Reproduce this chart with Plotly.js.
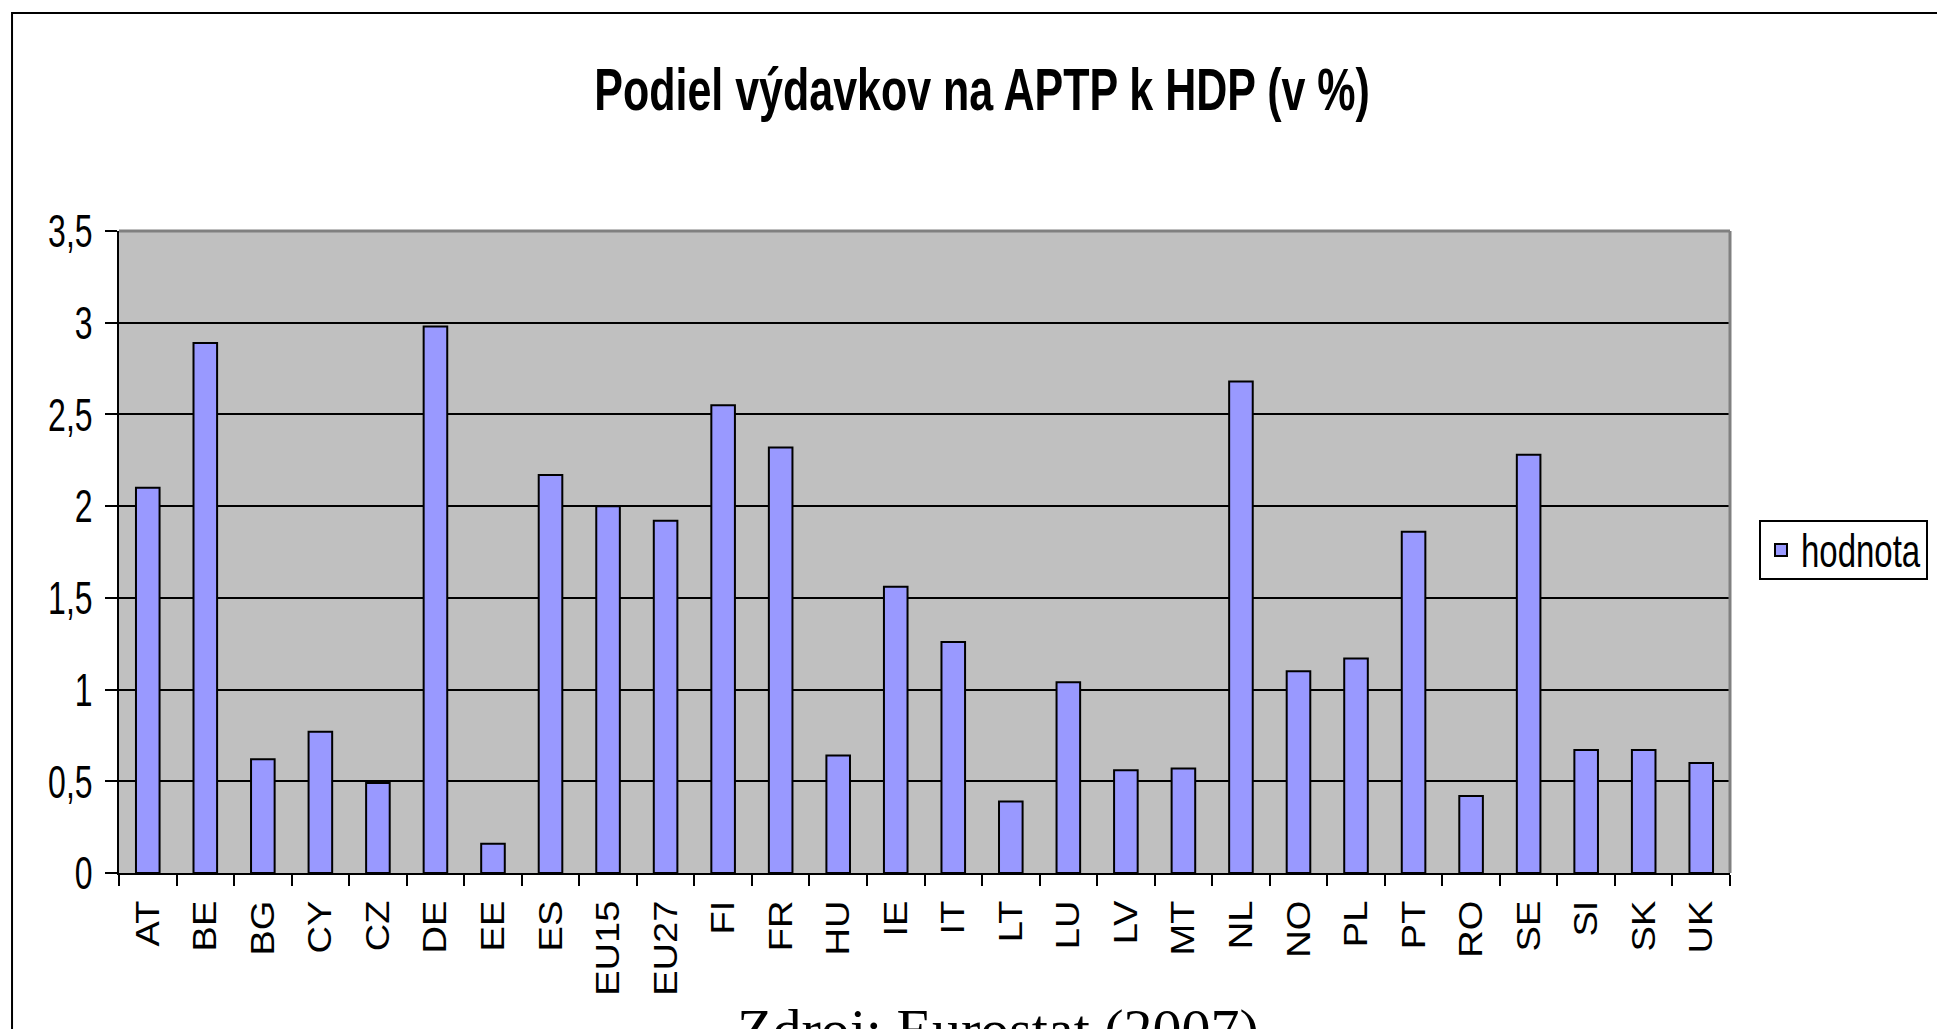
<!DOCTYPE html>
<html>
<head>
<meta charset="utf-8">
<script src="https://cdn.plot.ly/plotly-3.0.1.min.js"></script>
<style>
html,body{margin:0;padding:0;background:#fff;}
#chart{width:1937px;height:1029px;}
#chart .main-svg text.gtitle { transform-box: fill-box; transform-origin: center; transform: scaleY(1.38); }
#chart .main-svg g.ytick { transform-box: fill-box; transform-origin: center; transform: scaleY(1.45); }
#chart .main-svg g.xtick { transform-box: fill-box; transform-origin: center top; transform: scaleY(1.12); }
#chart .main-svg text.legendtext { transform-box: fill-box; transform-origin: center; transform: scaleY(1.4); }
</style>
</head>
<body>
<div id="chart"></div>
<script>
const countries = ["AT","BE","BG","CY","CZ","DE","EE","ES","EU15","EU27","FI","FR","HU","IE","IT","LT","LU","LV","MT","NL","NO","PL","PT","RO","SE","SI","SK","UK"];
const values = [2.10,2.89,0.62,0.77,0.49,2.98,0.16,2.17,2.00,1.92,2.55,2.32,0.64,1.56,1.26,0.39,1.04,0.56,0.57,2.68,1.10,1.17,1.86,0.42,2.28,0.67,0.67,0.60];
const yTickVals = [0,0.5,1,1.5,2,2.5,3,3.5];
const yTickText = ["0","0,5","1","1,5","2","2,5","3","3,5"];
const seriesName = "hodnota";
const chartTitle = "Podiel výdavkov na APTP k HDP (v %)";
const sourceNote = "Zdroj: Eurostat (2007)";

const sans = "Liberation Sans, Arial, sans-serif";

const trace = {
  type: "bar",
  x: countries,
  y: values,
  name: seriesName,
  showlegend: true,
  marker: {color: "#9999FF", line: {color: "#000000", width: 2}},
  hoverinfo: "x+y"
};

const layout = {
  width: 1937,
  height: 1029,
  margin: {l: 119, r: 207, t: 231, b: 156, pad: 0, autoexpand: false},
  paper_bgcolor: "#FFFFFF",
  plot_bgcolor: "#C0C0C0",
  bargap: 0.59,
  title: {
    text: "<b>" + chartTitle + "</b>",
    font: {family: sans, size: 43, color: "#000000"},
    x: 0.507, xanchor: "center",
    y: 0.913, yanchor: "middle"
  },
  xaxis: {
    type: "category",
    range: [-0.5, countries.length - 0.5],
    showline: true, linecolor: "#000000", linewidth: 2,
    ticks: "outside", tickson: "boundaries", ticklen: 11, tickwidth: 2, tickcolor: "#000000",
    tickangle: -90, ticklabelstandoff: 12,
    tickfont: {family: sans, size: 34, color: "#000000"},
    showgrid: false, zeroline: false
  },
  yaxis: {
    range: [0, 3.5],
    tickvals: yTickVals, ticktext: yTickText,
    showline: true, linecolor: "#000000", linewidth: 2,
    ticks: "outside", ticklen: 12, tickwidth: 2, tickcolor: "#000000",
    ticklabelstandoff: 6,
    tickfont: {family: sans, size: 32, color: "#000000"},
    showgrid: true, gridcolor: "#000000", gridwidth: 2,
    zeroline: false
  },
  legend: {
    x: 1.018, xanchor: "left",
    y: 0.503, yanchor: "middle",
    bgcolor: "#FFFFFF", bordercolor: "#000000", borderwidth: 2,
    font: {family: sans, size: 33, color: "#000000"}
  },
  shapes: [
    {type: "line", xref: "paper", yref: "paper", x0: 0, x1: 1, y0: 1, y1: 1, line: {color: "#808080", width: 3}, layer: "above"},
    {type: "line", xref: "paper", yref: "paper", x0: 1, x1: 1, y0: 0, y1: 1, line: {color: "#808080", width: 3}, layer: "above"},
    {type: "rect", xref: "paper", yref: "paper", x0: -0.0664, x1: 1.5, y0: -0.5, y1: 1.3396, line: {color: "#000000", width: 2}, layer: "below"}
  ],
  annotations: [
    {text: sourceNote, xref: "paper", yref: "paper", x: 0.5456, y: -0.19, xanchor: "center", yanchor: "top",
     showarrow: false, font: {family: "Liberation Serif, Times New Roman, serif", size: 58, color: "#000000"}}
  ]
};

Plotly.newPlot("chart", [trace], layout, {displayModeBar: false, staticPlot: true});
</script>
</body>
</html>
